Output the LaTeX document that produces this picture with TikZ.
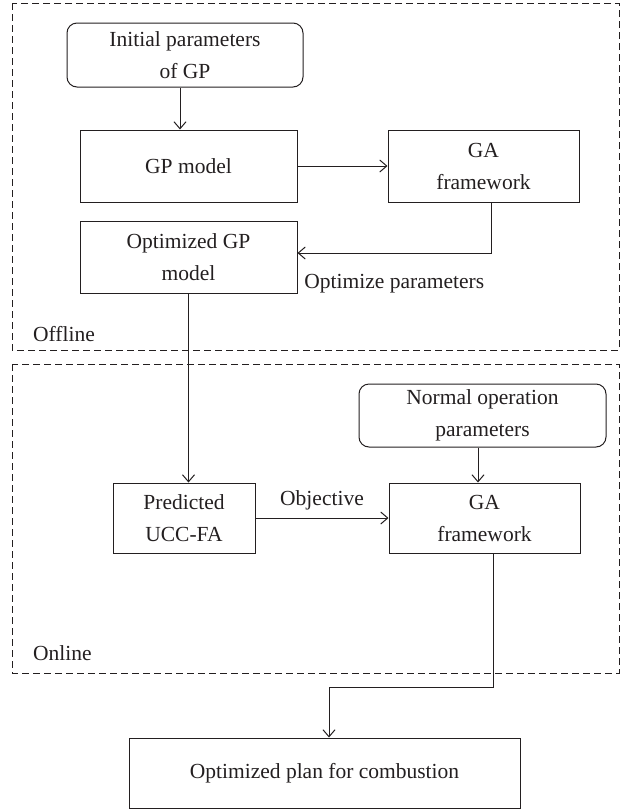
\documentclass[tikz,border=0pt]{standalone}
\usepackage{fontspec}
\setmainfont{Liberation Serif}
\usepackage{xcolor}
\usepackage{tikz}
\usetikzlibrary{arrows.meta, positioning}
\definecolor{inkgray}{RGB}{35, 31, 32}

\begin{document}
\begin{tikzpicture}[
  x=1pt, y=1pt,
  node distance=40pt,
  every node/.style={font=\fontsize{21.5}{32}\selectfont, text=inkgray, inner sep=0pt},
  proc/.style={rectangle, draw=inkgray, line width=1pt, align=center},
  inbox/.style={proc, rounded corners=10pt},
  zone/.style={draw=inkgray, line width=0.9pt, dash pattern=on 7pt off 4pt},
  arrow/.style={-{Straight Barb[length=7pt, width=12pt]}, line width=1pt, color=inkgray}
]
\useasboundingbox (0,0) rectangle (627,-812);

% offline / online zones
\draw[zone] (12,-3) rectangle (619,-350);
\draw[zone] (12,-364) rectangle (619,-673);
\node[anchor=west] (offl) at (33,-334) {Offline};
\node[anchor=west] (onl) at (33,-653) {Online};

\node[inbox, minimum width=236pt, minimum height=64pt] (init) at (185,-55) {Initial parameters\\of GP};
\node[proc, minimum width=217pt, minimum height=72pt, below=42pt of init, xshift=3.5pt] (gpm) {GP model};
\node[proc, minimum width=191pt, minimum height=72pt, right=90pt of gpm] (gaf1) {GA\\framework};
\node[proc, minimum width=217pt, minimum height=72pt, below=18pt of gpm] (optgp) {Optimized GP\\model};

\node[proc, minimum width=142pt, minimum height=70pt] (pred) at (184,-518) {Predicted\\UCC-FA};
\node[proc, minimum width=191pt, minimum height=70pt, right=133pt of pred] (gaf2) {GA\\framework};
\node[inbox, minimum width=247pt, minimum height=63pt, above=35pt of gaf2, xshift=-2pt] (normal) {Normal operation\\parameters};
\node[proc, minimum width=391pt, minimum height=70pt] (plan) at (324.5,-773) {Optimized plan for combustion};

\draw[arrow] ([xshift=-5pt]init.south) -- ([xshift=-5pt]init.south |- gpm.north);
\draw[arrow] (gpm) -- (gaf1);
\draw[arrow] ([xshift=7.5pt]gaf1.south) |- node[pos=0.75, below=21pt] {Optimize parameters} ([yshift=4pt]optgp.east);
\draw[arrow] (optgp.south) -- (optgp.south |- pred.north);
\draw[arrow] ([xshift=-4.5pt]normal.south) -- ([xshift=-4.5pt]normal.south |- gaf2.north);
\draw[arrow] (pred) -- node[above=7pt] {Objective} (gaf2);
\draw[arrow] ([xshift=8.5pt]gaf2.south) -- ++(0,-134) -| ([xshift=4.5pt]plan.north);

\end{tikzpicture}
\end{document}
